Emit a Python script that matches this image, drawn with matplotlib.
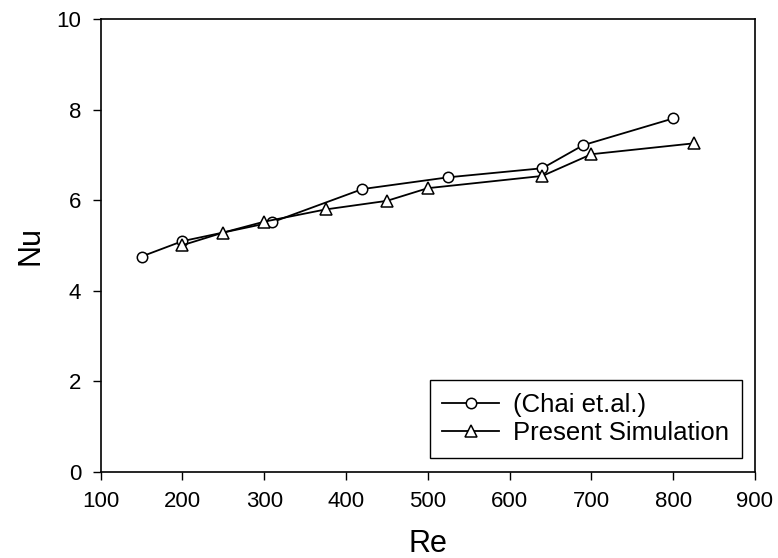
# Nu vs Re: comparison of Chai et al. data with present simulation

import matplotlib.pyplot as plt

re_chai = [150, 200, 310, 420, 525, 640, 690, 800]
nu_chai = [4.76, 5.10, 5.52, 6.25, 6.51, 6.71, 7.22, 7.81]

re_sim = [200, 250, 300, 375, 450, 500, 640, 700, 825]
nu_sim = [5.01, 5.29, 5.53, 5.80, 5.99, 6.27, 6.54, 7.02, 7.26]

plt.rcParams['font.family'] = ['Liberation Sans', 'DejaVu Sans']

fig = plt.figure(figsize=(7.78, 5.58), dpi=100)
ax = fig.add_axes([0.1294, 0.1541, 0.8410, 0.8113])

ax.plot(re_chai, nu_chai, '-o', color='black', lw=1.3, ms=7.5,
        mfc='white', mec='black', mew=1.1, label='(Chai et.al.)')
ax.plot(re_sim, nu_sim, '-^', color='black', lw=1.3, ms=8.5,
        mfc='white', mec='black', mew=1.1, label='Present Simulation')

ax.set_xlim(100, 900)
ax.set_ylim(0, 10)
ax.set_xticks(range(100, 1000, 100))
ax.set_yticks(range(0, 12, 2))
ax.tick_params(direction='out', length=6, width=1, labelsize=16, pad=8, colors='black')
for s in ax.spines.values():
    s.set_linewidth(1.2)

ax.set_xlabel('Re', fontsize=22, labelpad=12)
ax.set_ylabel('Nu', fontsize=22, labelpad=8)

leg = ax.legend(loc='lower right', bbox_to_anchor=(0.98, 0.031), borderaxespad=0,
                fontsize=18.5, frameon=True, fancybox=False, handlelength=2.2,
                handletextpad=0.55, edgecolor='black', framealpha=1,
                borderpad=0.5, labelspacing=0.15)
leg.get_frame().set_linewidth(1.0)

#plt.show()
plt.savefig('out.png')
